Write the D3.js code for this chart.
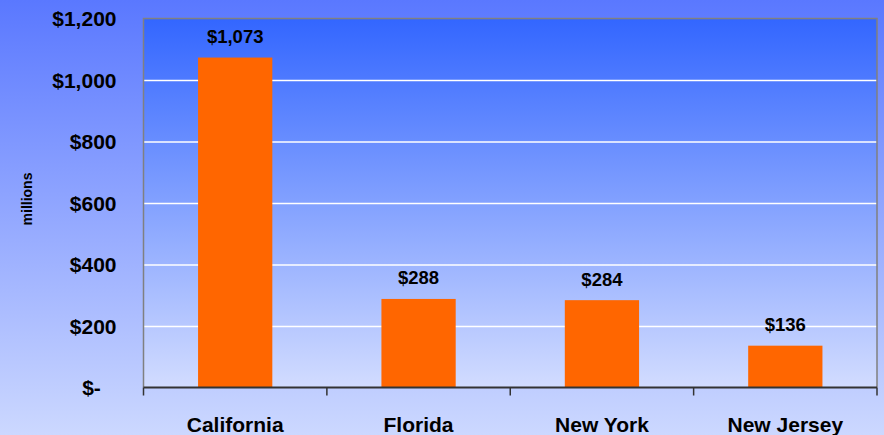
<!DOCTYPE html>
<html>
<head>
<meta charset="utf-8">
<script src="https://cdn.jsdelivr.net/npm/d3@7/dist/d3.min.js"></script>
<style>
  html, body { margin: 0; padding: 0; overflow: hidden; }
  text { font-family: "Liberation Sans", Arial, sans-serif; font-weight: bold; fill: #000; }
</style>
</head>
<body>
<svg id="chart" width="884" height="435"></svg>
<script>
const states = ["California", "Florida", "New York", "New Jersey"];
const amounts = [1073, 288, 284, 136];
const yTicks = [0, 200, 400, 600, 800, 1000, 1200];

const W = 884, H = 435;
const margin = { top: 18.5, right: 7, bottom: 47.5, left: 143.5 };
const innerW = W - margin.left - margin.right;
const innerH = H - margin.top - margin.bottom;

const svg = d3.select("#chart");
const defs = svg.append("defs");

const bgGrad = defs.append("linearGradient")
  .attr("id", "bg").attr("x1", 0).attr("y1", 0).attr("x2", 0).attr("y2", 1);
bgGrad.append("stop").attr("offset", "0%").attr("stop-color", "#5a78ff");
bgGrad.append("stop").attr("offset", "100%").attr("stop-color", "#ccd8ff");

const plotGrad = defs.append("linearGradient")
  .attr("id", "plotbg").attr("x1", 0).attr("y1", 0).attr("x2", 0).attr("y2", 1);
plotGrad.append("stop").attr("offset", "0%").attr("stop-color", "#3366ff");
plotGrad.append("stop").attr("offset", "100%").attr("stop-color", "#d2dcff");

svg.append("rect").attr("width", W).attr("height", H).attr("fill", "url(#bg)");

const g = svg.append("g").attr("transform", `translate(${margin.left},${margin.top})`);

const x = d3.scaleBand().domain(states).range([0, innerW]).paddingInner(0.595).paddingOuter(0.2975);
const xOuter = d3.scaleBand().domain(states).range([0, innerW]);
const y = d3.scaleLinear().domain([0, 1200]).range([innerH, 0]);

g.append("rect").attr("width", innerW).attr("height", innerH).attr("fill", "url(#plotbg)");

// grid
g.append("g")
  .call(d3.axisLeft(y).tickValues(yTicks.slice(1, -1)).tickSize(-innerW).tickFormat(""))
  .call(s => s.select(".domain").remove())
  .selectAll("line").attr("stroke", "#ffffff").attr("stroke-width", 1.5);

// frame: top & right grey
g.append("path")
  .attr("d", `M0,${innerH}V0H${innerW}V${innerH}`)
  .attr("fill", "none").attr("stroke", "#808080").attr("stroke-width", 1.5);

// bars
g.selectAll(".bar").data(states).join("rect")
  .attr("x", d => x(d))
  .attr("width", x.bandwidth())
  .attr("y", (d, i) => y(amounts[i]))
  .attr("height", (d, i) => innerH - y(amounts[i]))
  .attr("fill", "#ff6600");

// value labels
g.selectAll(".val").data(states).join("text")
  .attr("x", d => x(d) + x.bandwidth() / 2)
  .attr("y", (d, i) => y(amounts[i]) - 14.5)
  .attr("text-anchor", "middle")
  .style("font-size", "18.5px")
  .text((d, i) => "$" + d3.format(",")(amounts[i]));

// y axis labels
const fmtY = v => v === 0 ? "$-" : "$" + d3.format(",")(v);
g.selectAll(".ylab").data(yTicks).join("text")
  .attr("x", d => d === 0 ? -52 : -27)
  .attr("y", d => y(d) + 7.5)
  .attr("text-anchor", d => d === 0 ? "middle" : "end")
  .style("font-size", "21px")
  .text(fmtY);

// x axis
const boundaries = states.map(d => xOuter(d)).concat([innerW]);
g.selectAll(".xt").data(boundaries).join("line")
  .attr("x1", d => d).attr("x2", d => d)
  .attr("y1", innerH).attr("y2", innerH + 8)
  .attr("stroke", "#333").attr("stroke-width", 1.5);
g.append("line")
  .attr("x1", 0).attr("x2", innerW)
  .attr("y1", innerH).attr("y2", innerH)
  .attr("stroke", "#333").attr("stroke-width", 2);

g.selectAll(".xlab").data(states).join("text")
  .attr("x", d => xOuter(d) + xOuter.bandwidth() / 2)
  .attr("y", innerH + 44)
  .attr("text-anchor", "middle")
  .style("font-size", "21px")
  .text(d => d);

// y title
svg.append("text")
  .attr("transform", "translate(31.5,199) rotate(-90)")
  .attr("text-anchor", "middle")
  .style("font-size", "14px")
  .text("millions");
</script>
</body>
</html>
